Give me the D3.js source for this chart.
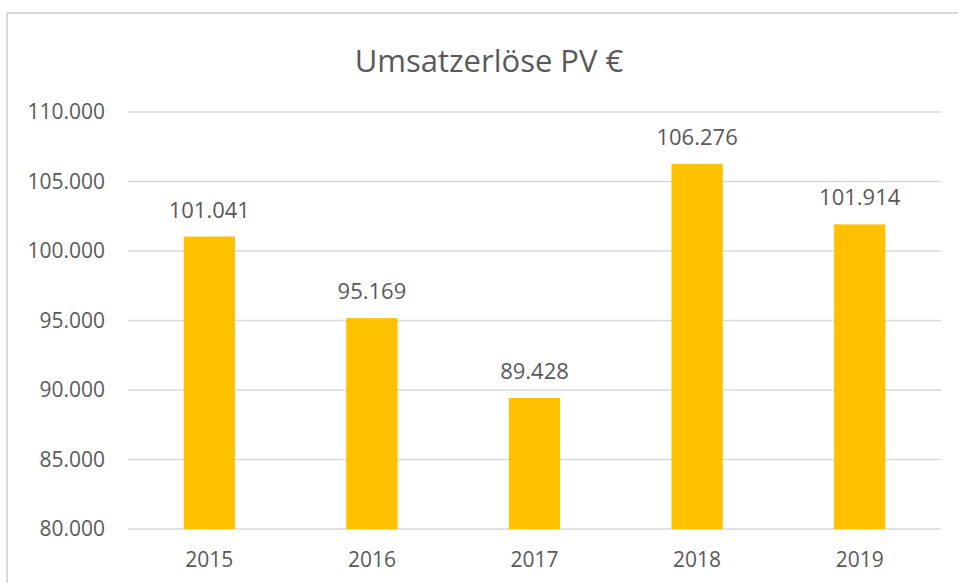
<!DOCTYPE html>
<html>
<head>
<meta charset="utf-8">
<script src="https://cdn.jsdelivr.net/npm/d3@7"></script>
<style>
  body { margin: 0; background: #fff; }
  svg { display: block; }
</style>
</head>
<body>
<svg id="chart" width="958" height="583"></svg>
<script>
const title = "Umsatzerlöse PV €";
const years = ["2015", "2016", "2017", "2018", "2019"];
const revenue = [101041, 95169, 89428, 106276, 101914];
const yTicks = [80000, 85000, 90000, 95000, 100000, 105000, 110000];

const width = 958, height = 583;
const margin = { top: 112, right: 17, bottom: 54, left: 128 };
const fontFamily = "'Open Sans', sans-serif";
const textColor = "#595959";

// 1.234 style thousands separator
const fmt = d3.formatLocale({ decimal: ",", thousands: ".", grouping: [3], currency: ["", "€"] }).format(",d");

const svg = d3.select("#chart")
  .attr("font-family", fontFamily);

// chart frame
svg.append("rect")
  .attr("x", 7).attr("y", 13)
  .attr("width", width + 10).attr("height", height + 10)
  .attr("fill", "#fff")
  .attr("stroke", "#d9d9d9")
  .attr("stroke-width", 2);

const x = d3.scaleBand()
  .domain(years)
  .range([margin.left, width - margin.right])
  .padding(0);

const y = d3.scaleLinear()
  .domain([80000, 110000])
  .range([height - margin.bottom, margin.top]);

const barWidth = x.bandwidth() * 0.315;

// gridlines
svg.append("g")
  .selectAll("line")
  .data(yTicks)
  .join("line")
  .attr("x1", margin.left)
  .attr("x2", width - margin.right)
  .attr("y1", d => y(d))
  .attr("y2", d => y(d))
  .attr("stroke", "#d9d9d9")
  .attr("stroke-width", 1.5);

// y tick labels
svg.append("g")
  .selectAll("text")
  .data(yTicks)
  .join("text")
  .attr("x", 105)
  .attr("y", d => y(d))
  .attr("dy", "0.35em")
  .attr("text-anchor", "end")
  .attr("font-size", 21)
  .attr("fill", textColor)
  .text(d => fmt(d));

const data = years.map((yr, i) => ({ year: yr, value: revenue[i] }));

// bars
svg.append("g")
  .selectAll("rect")
  .data(data)
  .join("rect")
  .attr("x", d => x(d.year) + x.bandwidth() / 2 - barWidth / 2)
  .attr("width", barWidth)
  .attr("y", d => y(d.value))
  .attr("height", d => y(80000) - y(d.value))
  .attr("fill", "#ffc000");

// data labels
svg.append("g")
  .selectAll("text")
  .data(data)
  .join("text")
  .attr("x", d => x(d.year) + x.bandwidth() / 2)
  .attr("y", d => y(d.value) - 19)
  .attr("text-anchor", "middle")
  .attr("font-size", 22)
  .attr("fill", textColor)
  .text(d => fmt(d.value));

// x labels
svg.append("g")
  .selectAll("text")
  .data(years)
  .join("text")
  .attr("x", d => x(d) + x.bandwidth() / 2)
  .attr("y", y(80000) + 38)
  .attr("text-anchor", "middle")
  .attr("font-size", 21)
  .attr("fill", textColor)
  .text(d => d);

// title
svg.append("text")
  .attr("x", 489)
  .attr("y", 72)
  .attr("text-anchor", "middle")
  .attr("font-size", 31)
  .attr("fill", textColor)
  .text(title);
</script>
</body>
</html>
